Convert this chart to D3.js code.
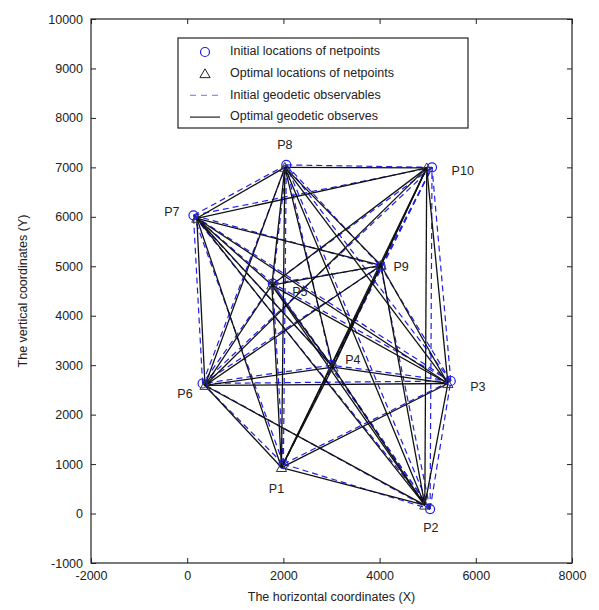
<!DOCTYPE html>
<html>
<head>
<meta charset="utf-8">
<script src="https://cdn.jsdelivr.net/npm/d3@7"></script>
<style>
  body { margin: 0; background: #fff; }
  text { font-family: "Liberation Sans", Arial, sans-serif; fill: #222; }
</style>
</head>
<body>
<svg id="chart" width="599" height="610"></svg>
<script>
// point names
const names = ["P1", "P2", "P3", "P4", "P5", "P6", "P7", "P8", "P9", "P10"];

// initial locations of netpoints (circles)
const initX = [2000, 5050, 5480, 3000, 1780, 320, 130, 2060, 4020, 5090];
const initY = [1000, 90, 2680, 3000, 4650, 2630, 6030, 7050, 5000, 7000];

// optimal locations of netpoints (triangles)
const optX = [1960, 4940, 5420, 3030, 1760, 370, 200, 2030, 4030, 4980];
const optY = [930, 170, 2630, 2960, 4620, 2590, 5970, 7000, 5020, 6990];

// observed lines (pairs of point indices)
const edges = [
  [0,1],[0,2],[0,3],[0,4],[0,5],[0,6],[0,7],[0,8],[0,9],
  [1,2],[1,3],[1,4],[1,5],[1,6],[1,7],[1,8],[1,9],
  [2,3],[2,4],[2,5],[2,6],[2,7],[2,8],[2,9],
  [3,4],[3,5],[3,6],[3,7],[3,8],[3,9],
  [4,5],[4,6],[4,7],[4,8],[4,9],
  [5,6],[5,7],[5,8],[5,9],
  [6,7],[6,8],[6,9],
  [7,8],[7,9],
  [8,9]
];

const xTicks = [-2000, 0, 2000, 4000, 6000, 8000];
const yTicks = [-1000, 0, 1000, 2000, 3000, 4000, 5000, 6000, 7000, 8000, 9000, 10000];

const legendLabels = [
  "Initial locations of netpoints",
  "Optimal locations of netpoints",
  "Initial geodetic observables",
  "Optimal geodetic observes"
];

// label offsets in pixels from the optimal point
const labelOffset = {
  P1: [-5, 22], P2: [6, 24], P3: [30, 4], P4: [20, -6], P5: [28, 8],
  P6: [-20, 9], P7: [-25, -6], P8: [0, -22], P9: [20, 2], P10: [36, 4]
};

const BLUE = "#1f1fe6";

const margin = { top: 19, right: 27, bottom: 47, left: 91 };
const width = 599, height = 610;

const x = d3.scaleLinear().domain([-2000, 8000]).range([margin.left, width - margin.right]);
const y = d3.scaleLinear().domain([-1000, 10000]).range([height - margin.bottom, margin.top]);

const svg = d3.select("#chart");
const fmt = d => String(d);

// axes, MATLAB style: ticks inward on all four sides
const tickLen = 5;
svg.append("g")
  .attr("transform", `translate(0,${y(-1000)})`)
  .call(d3.axisBottom(x).tickValues(xTicks).tickFormat(fmt).tickSizeInner(-tickLen).tickSizeOuter(0).tickPadding(8))
  .call(g => g.selectAll("text").attr("font-size", 12.5));
svg.append("g")
  .attr("transform", `translate(0,${y(10000)})`)
  .call(d3.axisTop(x).tickValues(xTicks).tickSizeInner(-tickLen).tickSizeOuter(0).tickFormat(""));
svg.append("g")
  .attr("transform", `translate(${x(-2000)},0)`)
  .call(d3.axisLeft(y).tickValues(yTicks).tickFormat(fmt).tickSizeInner(-tickLen).tickSizeOuter(0).tickPadding(8))
  .call(g => g.selectAll("text").attr("font-size", 12.5));
svg.append("g")
  .attr("transform", `translate(${x(8000)},0)`)
  .call(d3.axisRight(y).tickValues(yTicks).tickSizeInner(-tickLen).tickSizeOuter(0).tickFormat(""));

svg.selectAll(".domain").remove();
svg.selectAll(".tick line").attr("stroke", "#222");

svg.append("rect")
  .attr("x", x(-2000)).attr("y", y(10000))
  .attr("width", x(8000) - x(-2000)).attr("height", y(-1000) - y(10000))
  .attr("fill", "none").attr("stroke", "#222").attr("stroke-width", 1.2);

// axis titles
svg.append("text")
  .attr("x", (x(-2000) + x(8000)) / 2).attr("y", 601)
  .attr("text-anchor", "middle").attr("font-size", 12.5)
  .text("The horizontal coordinates (X)");
svg.append("text")
  .attr("transform", `translate(27,${(y(-1000) + y(10000)) / 2}) rotate(-90)`)
  .attr("text-anchor", "middle").attr("font-size", 12.5)
  .text("The vertical coordinates (Y)");

const plot = svg.append("g");

// initial observables, dashed blue
plot.append("g").selectAll("line")
  .data(edges)
  .join("line")
  .attr("x1", d => x(initX[d[0]])).attr("y1", d => y(initY[d[0]]))
  .attr("x2", d => x(initX[d[1]])).attr("y2", d => y(initY[d[1]]))
  .attr("stroke", BLUE).attr("stroke-width", 1.2)
  .attr("stroke-dasharray", "6,4");

// optimal observables, solid black
plot.append("g").selectAll("line")
  .data(edges)
  .join("line")
  .attr("x1", d => x(optX[d[0]])).attr("y1", d => y(optY[d[0]]))
  .attr("x2", d => x(optX[d[1]])).attr("y2", d => y(optY[d[1]]))
  .attr("stroke", "#111").attr("stroke-width", 1.3);

// initial netpoints
plot.append("g").selectAll("circle")
  .data(names)
  .join("circle")
  .attr("cx", (d, i) => x(initX[i])).attr("cy", (d, i) => y(initY[i]))
  .attr("r", 4.5)
  .attr("fill", "none").attr("stroke", BLUE).attr("stroke-width", 1.2);

// optimal netpoints
const tri = d3.symbol().type(d3.symbolTriangle).size(45);
plot.append("g").selectAll("path")
  .data(names)
  .join("path")
  .attr("transform", (d, i) => `translate(${x(optX[i])},${y(optY[i]) + 1})`)
  .attr("d", tri)
  .attr("fill", "none").attr("stroke", "#333").attr("stroke-width", 1);

// point labels
plot.append("g").selectAll("text")
  .data(names)
  .join("text")
  .attr("x", (d, i) => x(optX[i]) + labelOffset[d][0])
  .attr("y", (d, i) => y(optY[i]) + labelOffset[d][1])
  .attr("text-anchor", "middle").attr("dominant-baseline", "middle")
  .attr("font-size", 12.5)
  .text(d => d);

// legend
const lg = svg.append("g").attr("transform", "translate(178,38)");
lg.append("rect")
  .attr("width", 290).attr("height", 90)
  .attr("fill", "#fff").attr("stroke", "#222").attr("stroke-width", 1.2);

const rowY = i => 14 + i * 21.7;

lg.append("circle").attr("cx", 27).attr("cy", rowY(0))
  .attr("r", 4.5).attr("fill", "none").attr("stroke", BLUE).attr("stroke-width", 1.2);
lg.append("path").attr("transform", `translate(27,${rowY(1) + 1})`)
  .attr("d", tri).attr("fill", "none").attr("stroke", "#222").attr("stroke-width", 1);
lg.append("line").attr("x1", 12).attr("x2", 42).attr("y1", rowY(2)).attr("y2", rowY(2))
  .attr("stroke", "#8c8cff").attr("stroke-width", 1.3).attr("stroke-dasharray", "6,5");
lg.append("line").attr("x1", 12).attr("x2", 42).attr("y1", rowY(3)).attr("y2", rowY(3))
  .attr("stroke", "#222").attr("stroke-width", 1.2);

lg.selectAll("text.lab")
  .data(legendLabels)
  .join("text")
  .attr("class", "lab")
  .attr("x", 52).attr("y", (d, i) => rowY(i))
  .attr("dominant-baseline", "middle").attr("font-size", 12.5)
  .text(d => d);
</script>
</body>
</html>
